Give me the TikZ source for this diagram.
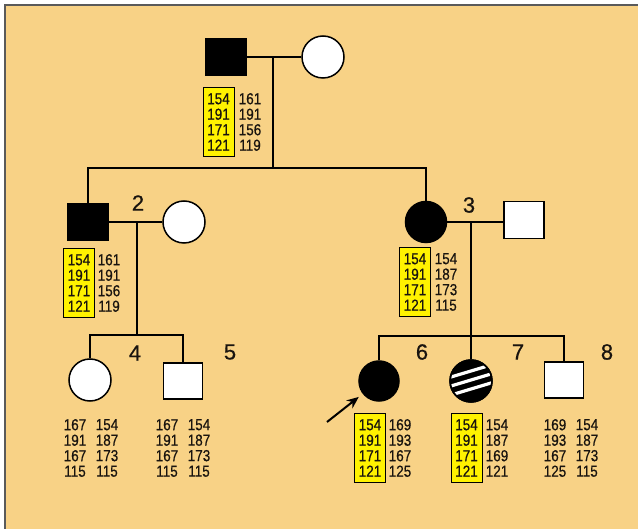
\documentclass[tikz,border=0pt]{standalone}
\usepackage{fontspec}
\setmainfont{Liberation Sans}
\newfontfamily\gfont{Liberation Sans}[FakeBold=0.6]
\usetikzlibrary{arrows.meta,calc}
\definecolor{bgtan}{RGB}{248,210,134}
\definecolor{ylw}{RGB}{255,242,0}
\definecolor{frame}{RGB}{90,90,90}
\definecolor{ink}{RGB}{25,20,15}
\newcommand\tl[1]{\scalebox{1}[1.18]{#1}}
\newcommand\gcol[4]{\tl{#1}\\\tl{#2}\\\tl{#3}\\\tl{#4}}
\begin{document}
\begin{tikzpicture}[x=1pt,y=-1pt,
  ln/.style={line width=2pt,black},
  sq/.style={draw=black,line width=1.5pt,minimum width=40pt,minimum height=37pt,inner sep=0pt,fill=white},
  circ/.style={circle,draw=black,line width=1.5pt,minimum size=42pt,inner sep=0pt,fill=white},
  affected/.style={fill=black},
  ybox/.style={draw=black,line width=0.9pt,fill=ylw,text=ink,minimum width=31pt,minimum height=69pt,inner sep=0pt,align=center,font=\gfont\fontsize{13.5}{15.5}\selectfont},
  gtxt/.style={inner sep=0pt,align=center,text=ink,font=\gfont\fontsize{13.5}{15.5}\selectfont},
  num/.style={inner sep=0pt,text=ink,font=\gfont\fontsize{22}{22}\selectfont},
  arr/.style={line width=2pt,-{Stealth[length=12pt,width=10pt]},shorten >=5pt}
]
\useasboundingbox (0,0) rectangle (638,529);
\fill[white] (0,0) rectangle (638,529);
\fill[bgtan] (5,5) rectangle (640,531);
\draw[frame,line width=1.8pt] (5,531) -- (5,5) -- (640,5);

% Generation I
\node[sq,affected] (I1) at (226,57) {};
\node[circ] (I2) at (323,57) {};
\draw[ln] (I1.east) -- (I2.west);
\coordinate (cI) at (273,57);
\coordinate (sI) at (273,168);
\draw[ln] (cI) -- (sI);
\node[ybox] (tI1a) at (218.5,122) {\gcol{154}{191}{171}{121}};
\node[gtxt] (tI1b) at (250,122) {\gcol{161}{191}{156}{119}};

% Generation II
\node[sq,affected] (II2) at (88,222) {};
\node[circ] (II2s) at (184,222) {};
\node[circ,affected,minimum size=41pt] (II3) at (426,222) {};
\node[sq] (II3s) at (524,220) {};
\draw[ln] (II2.north) |- (sI) -| (II3.north);
\draw[ln] (II2.east) -- (II2s.west);
\draw[ln] (II3.east) -- (II3s.west |- II3.east);
\node[num] (l2) at (138,203) {2};
\node[num] (l3) at (469,205) {3};
\node[ybox] (tII2a) at (79,283) {\gcol{154}{191}{171}{121}};
\node[gtxt] (tII2b) at (109,283) {\gcol{161}{191}{156}{119}};
\node[ybox] (tII3a) at (415,282) {\gcol{154}{191}{171}{121}};
\node[gtxt] (tII3b) at (446,282) {\gcol{154}{187}{173}{115}};

% Generation III
\coordinate (cA) at (137,222);
\coordinate (sA) at (137,335);
\coordinate (cB) at (471,222);
\coordinate (sB) at (471,336);
\draw[ln] (cA) -- (sA);
\draw[ln] (cB) -- (sB);

\node[circ] (III4) at (90,380) {};
\node[sq,minimum width=39pt,minimum height=36pt] (III5) at (183,381) {};
\draw[ln] (III4.north) |- (sA) -| (III5.north);
\node[num] (l4) at (135,353) {4};
\node[num] (l5) at (230,352) {5};
\node[gtxt] (t4a) at (75,448) {\gcol{167}{191}{167}{115}};
\node[gtxt] (t4b) at (107,448) {\gcol{154}{187}{173}{115}};
\node[gtxt] (t5a) at (167,448) {\gcol{167}{191}{167}{115}};
\node[gtxt] (t5b) at (199,448) {\gcol{154}{187}{173}{115}};

\node[circ,affected,minimum size=40pt] (III6) at (379,381) {};
\node[circ,fill=black] (III7) at (471,381) {};
\begin{scope}
  \clip (471,381) circle (20pt);
  \foreach \o in {-9,0,9}{
    \draw[white,line width=3.2pt] ($(471,381)+(-30,\o+8)$) -- ++(60,-18);
  }
\end{scope}
\draw[black,line width=1.5pt] (471,381) circle (21pt);
\node[sq,minimum width=39pt,minimum height=36pt] (III8) at (564,380) {};
\draw[ln] (III6.north) |- (sB) -| (III8.north);
\draw[ln] (sB) -- (III7.north);
\node[num] (l6) at (422,352) {6};
\node[num] (l7) at (518,352) {7};
\node[num] (l8) at (607,352) {8};
\coordinate (pa) at (327,422);
\draw[arr] (pa) -- (III6);
\node[ybox] (t6a) at (370,448) {\gcol{154}{191}{171}{121}};
\node[gtxt] (t6b) at (400,448) {\gcol{169}{193}{167}{125}};
\node[ybox] (t7a) at (466.5,448) {\gcol{154}{191}{171}{121}};
\node[gtxt] (t7b) at (497,448) {\gcol{154}{187}{169}{121}};
\node[gtxt] (t8a) at (555,448) {\gcol{169}{193}{167}{125}};
\node[gtxt] (t8b) at (587,448) {\gcol{154}{187}{173}{115}};
\end{tikzpicture}
\end{document}
